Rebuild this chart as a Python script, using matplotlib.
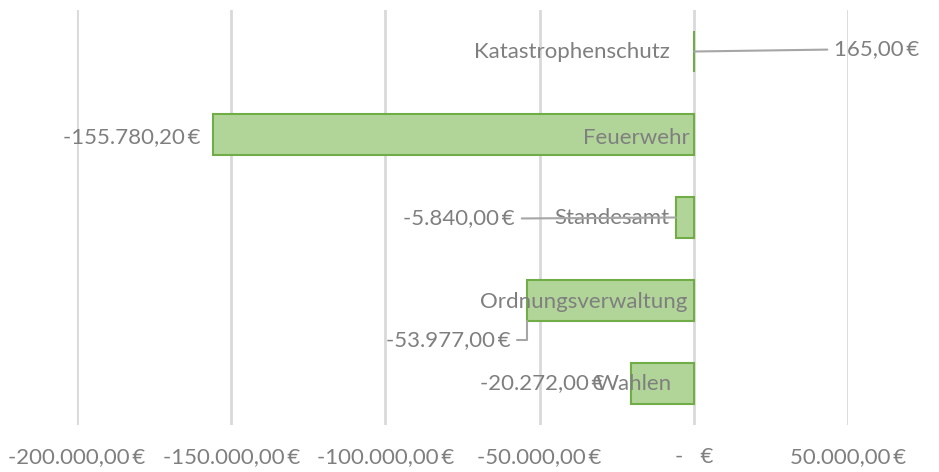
import matplotlib.pyplot as plt
from matplotlib.ticker import FuncFormatter

plt.rcParams['font.family'] = ['Lato', 'DejaVu Sans']

# data
categories = ['Katastrophenschutz', 'Feuerwehr', 'Standesamt', 'Ordnungsverwaltung', 'Wahlen']
values = [165.00, -155780.20, -5840.00, -53977.00, -20272.00]
xticks = [-200000, -150000, -100000, -50000, 0, 50000]

grey = '#7f7f7f'
line_grey = '#a6a6a6'
fs = 16


def euro(v, pos=None):
    if v == 0:
        return '-   €'
    s = f'{v:,.2f}'.replace(',', 'X').replace('.', ',').replace('X', '.')
    return s + '\u2009€'


fig = plt.figure(figsize=(9.39, 4.72), dpi=100)
ax = fig.add_axes([77 / 939, 1 - 425 / 472, (848 - 77) / 939, (425 - 10) / 472])

ypos = list(range(len(categories)))
ax.barh(ypos, values, height=0.5, color='#b1d598', edgecolor='#70ad47', linewidth=1.5, zorder=3)

ax.set_xlim(-200000, 50000)
ax.set_ylim(len(categories) - 0.5, -0.5)
ax.set_xticks(xticks)
ax.xaxis.set_major_formatter(FuncFormatter(euro))
ax.set_yticks([])
ax.grid(axis='x', color='#d9d9d9', linewidth=2, zorder=0)
ax.tick_params(axis='x', length=0, pad=16, labelsize=fs, labelcolor=grey)
for sp in ax.spines.values():
    sp.set_visible(False)

# category label offsets (pixels from the zero line)
cat_off = [(-24, 0), (-4, -3), (-24, 0), (-6, -2), (-22, 0)]
for y, c, (dx, dy) in zip(ypos, categories, cat_off):
    ax.annotate(c, xy=(0, y), xytext=(dx, dy), textcoords='offset pixels',
                ha='right', va='center', fontsize=fs, color=grey, zorder=4)

# value label offsets (pixels from bar end; the L-shaped one from the bar's lower corner)
val_off = [(140, 2), (-13, -3), (-161, -1), (-17, -19), (-27, 0)]
leader = [True, False, True, True, False]
for y, v, (dx, dy), ld in zip(ypos, values, val_off, leader):
    ha = 'left' if v > 0 else 'right'
    kw = {}
    xy = (v, y)
    if ld:
        if dx > -100 and v < 0:
            kw['arrowprops'] = dict(arrowstyle='-', color=line_grey, lw=1.5,
                                    shrinkA=3, shrinkB=0, relpos=(1, 0.5),
                                    connectionstyle='angle,angleA=0,angleB=90,rad=0')
            xy = (v, y + 0.25)
        else:
            rp = (0, 0.5) if v > 0 else (1, 0.5)
            kw['arrowprops'] = dict(arrowstyle='-', color=line_grey, lw=1.5,
                                    shrinkA=3, shrinkB=0, relpos=rp)
    ax.annotate(euro(v), xy=xy, xytext=(dx, dy), textcoords='offset pixels',
                ha=ha, va='center', fontsize=fs, color=grey, zorder=5, **kw)

fig.savefig('out.png', dpi=100)
